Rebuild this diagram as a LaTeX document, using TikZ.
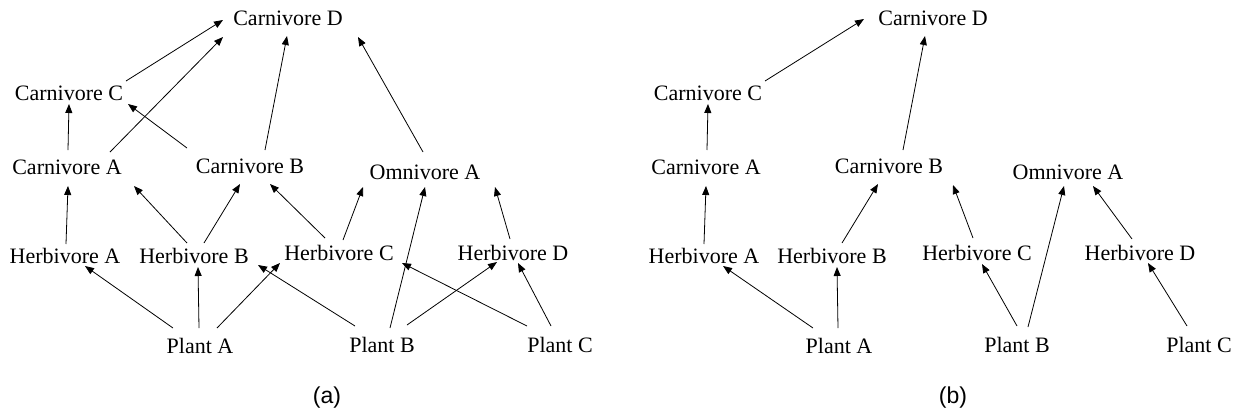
\documentclass[tikz,border=0pt]{standalone}
\usepackage{fontspec}
\setmainfont{Liberation Serif}
\newfontfamily\capfont{Liberation Sans}
\usetikzlibrary{arrows.meta}
\tikzset{
  lbl/.style={inner sep=0pt, font=\fontsize{22}{26}\selectfont},
  caplbl/.style={inner sep=0pt, font=\capfont\fontsize{23}{27}\selectfont},
  arr/.style={line width=0.8pt, -{Triangle[length=9pt,width=7pt]}}
}
\newcommand\fwedge[6]{\draw[arr] ([shift={(#2,#3)}]#1.center) -- ([shift={(#5,#6)}]#4.center);}
\begin{document}
\begin{tikzpicture}[x=1pt,y=-1pt]
\useasboundingbox (0,0) rectangle (1235,416);
% panel (a)
\node[lbl] (cD) at (288,18) {Carnivore D};
\node[lbl] (cC) at (69,93) {Carnivore C};
\node[lbl] (cA) at (67,167) {Carnivore A};
\node[lbl] (cB) at (250,166) {Carnivore B};
\node[lbl] (oA) at (425,172) {Omnivore A};
\node[lbl] (hA) at (65,256) {Herbivore A};
\node[lbl] (hB) at (194,256) {Herbivore B};
\node[lbl] (hC) at (339,253) {Herbivore C};
\node[lbl] (hD) at (513,253) {Herbivore D};
\node[lbl] (pA) at (200,346) {Plant A};
\node[lbl] (pB) at (382,345) {Plant B};
\node[lbl] (pC) at (560,345) {Plant C};
\node[caplbl] (capA) at (327,398) {(a)};
\fwedge{cC}{57}{-12}{cD}{-65}{2}
\fwedge{cA}{43}{-15}{cD}{-65}{19}
\fwedge{cA}{1}{-17}{cC}{0}{11}
\fwedge{cB}{-63}{-18}{cC}{59}{11}
\fwedge{cB}{15}{-16}{cD}{-1}{18}
\fwedge{oA}{-2}{-20}{cD}{70}{19}
\fwedge{hA}{1}{-12}{cA}{1}{19}
\fwedge{hB}{-7}{-13}{cA}{67}{19}
\fwedge{hB}{10}{-13}{cB}{-10}{18}
\fwedge{hC}{-14}{-15}{cB}{20}{18}
\fwedge{hC}{4}{-13}{oA}{-62}{15}
\fwedge{pB}{8}{-17}{oA}{0}{15}
\fwedge{hD}{-3}{-14}{oA}{70}{15}
\fwedge{pA}{-27}{-18}{hA}{20}{10}
\fwedge{pA}{-1}{-18}{hB}{4}{11}
\fwedge{pA}{17}{-18}{hC}{-59}{10}
\fwedge{pB}{-27}{-19}{hB}{64}{9}
\fwedge{pC}{-33}{-19}{hC}{63}{10}
\fwedge{pB}{25}{-20}{hD}{-16}{9}
\fwedge{pC}{-9}{-19}{hD}{5}{10}
% panel (b)
\node[lbl] (cD2) at (933,18) {Carnivore D};
\node[lbl] (cC2) at (708,93) {Carnivore C};
\node[lbl] (cA2) at (706,167) {Carnivore A};
\node[lbl] (cB2) at (889,166) {Carnivore B};
\node[lbl] (oA2) at (1068,172) {Omnivore A};
\node[lbl] (hA2) at (704,256) {Herbivore A};
\node[lbl] (hB2) at (832,256) {Herbivore B};
\node[lbl] (hC2) at (977,253) {Herbivore C};
\node[lbl] (hD2) at (1140,253) {Herbivore D};
\node[lbl] (pA2) at (839,346) {Plant A};
\node[lbl] (pB2) at (1017,345) {Plant B};
\node[lbl] (pC2) at (1199,345) {Plant C};
\node[caplbl] (capB) at (953,398) {(b)};
\fwedge{cC2}{57}{-12}{cD2}{-69}{1}
\fwedge{cA2}{1}{-17}{cC2}{0}{11}
\fwedge{cB2}{14}{-16}{cD2}{-8}{18}
\fwedge{hA2}{0}{-12}{cA2}{0}{19}
\fwedge{hB2}{10}{-13}{cB2}{-11}{18}
\fwedge{hC2}{-4}{-15}{cB2}{64}{19}
\fwedge{pB2}{0}{-19}{hC2}{5}{11}
\fwedge{pB2}{11}{-18}{oA2}{-4}{14}
\fwedge{hD2}{-8}{-14}{oA2}{25}{14}
\fwedge{pC2}{-12}{-19}{hD2}{8}{10}
\fwedge{pA2}{-26}{-18}{hA2}{19}{10}
\fwedge{pA2}{-1}{-18}{hB2}{5}{11}
\end{tikzpicture}
\end{document}
